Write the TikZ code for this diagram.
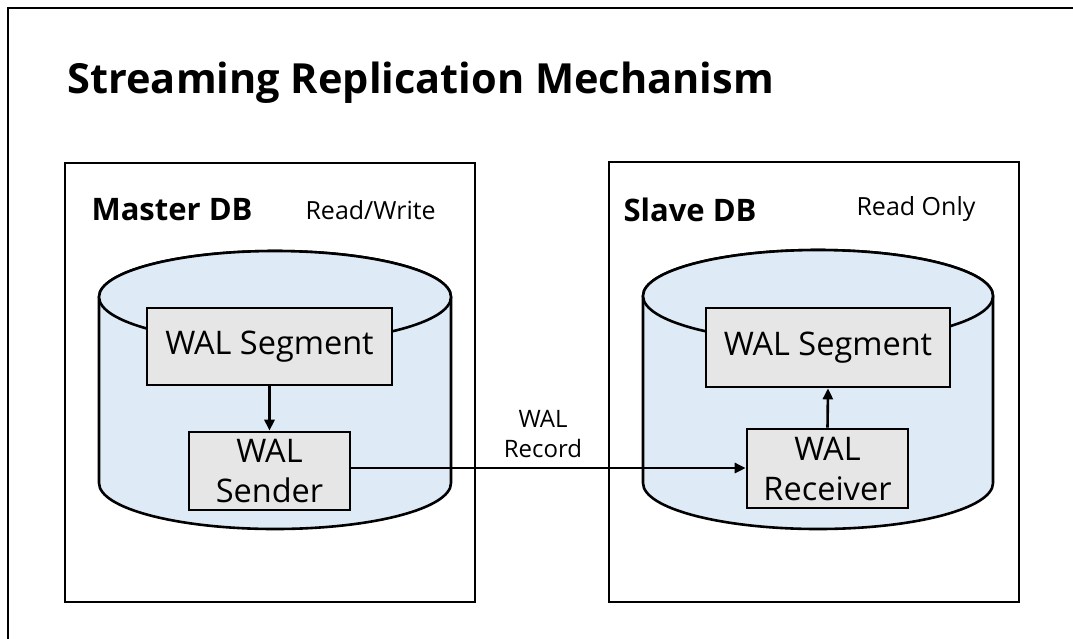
\documentclass[tikz,border=0pt]{standalone}
\usepackage{fontspec}
\setmainfont{Open Sans}
\usetikzlibrary{arrows.meta}
\definecolor{cylfill}{HTML}{DEEBF7}
\definecolor{boxfill}{HTML}{E7E6E6}
\begin{document}
\begin{tikzpicture}[x=1pt,y=-1pt,
  frame/.style={draw=black,line width=2.6pt},
  cyl/.style={draw=black,line width=2.6pt,fill=cylfill},
  walbox/.style={draw=black,line width=2.6pt,fill=boxfill,inner sep=0pt,align=center,
    font=\fontsize{32.5}{40}\selectfont},
  flow/.style={draw=black,line width=2.6pt,-{Triangle[length=11pt,width=10pt]}},
  dbtitle/.style={font=\fontsize{31}{36}\selectfont\bfseries,anchor=west},
  mode/.style={font=\fontsize{25}{30}\selectfont,anchor=west},
  lbl/.style={font=\fontsize{24}{30}\selectfont,align=center}]
\clip (0,0) rectangle (1073,638);
\fill[white] (0,0) rectangle (1073,638);
\draw[line width=2pt] (8,8) rectangle (1090,660);
\node[font=\fontsize{41.5}{48}\selectfont\bfseries,anchor=west] (title) at (64,83) {Streaming Replication Mechanism};
% Master
\node[frame,minimum width=410pt,minimum height=439pt,inner sep=0pt] (master) at (270,382.5) {};
\node[dbtitle] (mastername) at (88,210) {Master DB};
\node[mode] (mastermode) at (302,210) {Read/Write};
\path[cyl] (99,297) -- (99,483) arc[start angle=180,end angle=0,x radius=176,y radius=46] -- (451,297) arc[start angle=0,end angle=-180,x radius=176,y radius=46] -- cycle;
\draw[cyl] (275,297) ellipse[x radius=176,y radius=46];
\node[walbox,minimum width=245pt,minimum height=77pt] (mseg) at (269.5,346.5) {WAL Segment};
\node[walbox,minimum width=161pt,minimum height=78pt] (msend) at (269.5,471) {WAL\\Sender};
% Slave
\node[frame,minimum width=410pt,minimum height=440pt,inner sep=0pt] (slave) at (814,382) {};
\node[dbtitle] (slavename) at (620,210) {Slave DB};
\node[mode] (slavemode) at (853,209) {Read Only};
\path[cyl] (643,296) -- (643,483) arc[start angle=180,end angle=0,x radius=175,y radius=46] -- (993,296) arc[start angle=0,end angle=-180,x radius=175,y radius=46] -- cycle;
\draw[cyl] (818,296) ellipse[x radius=175,y radius=46];
\node[walbox,minimum width=244pt,minimum height=79pt] (sseg) at (828,347.5) {WAL Segment};
\node[walbox,minimum width=161pt,minimum height=79pt] (srecv) at (827.5,468.5) {WAL\\Receiver};
% connectors
\draw[flow] (mseg.south) -- (msend.north);
\draw[flow] (srecv.north) -- (sseg.south);
\draw[flow] (msend.east |- 0,468) -- (srecv.west |- 0,468);
\node[lbl] (rec) at (543,434) {WAL\\Record};
\end{tikzpicture}
\end{document}
